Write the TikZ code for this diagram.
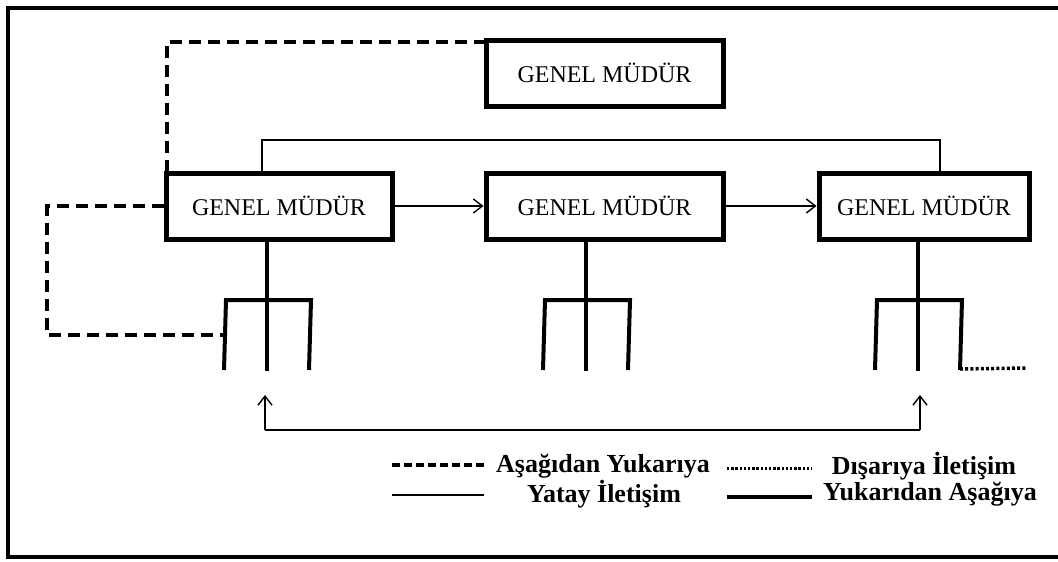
\documentclass[tikz,border=0pt]{standalone}
\usepackage{fontspec}
\setmainfont{Liberation Serif}
\usetikzlibrary{arrows.meta}
\begin{document}
\begin{tikzpicture}[x=1pt,y=-1pt,
  boxnode/.style={draw,line width=5pt,minimum height=66pt,inner sep=0pt,outer sep=0pt,font=\fontsize{24}{28}\selectfont},
  thinline/.style={line width=1.4pt},
  forkline/.style={line width=4pt},
  dashline/.style={line width=4.5pt,dash pattern=on 12pt off 7pt},
  dotline/.style={line width=3.5pt,dash pattern=on 3pt off 2.2pt},
  arr/.style={thinline,-{Straight Barb[length=9pt,width=14pt,line width=1.4pt]}},
  legtext/.style={font=\bfseries\fontsize{26}{30}\selectfont,inner sep=0pt}
]
\useasboundingbox (0,0) rectangle (1058,562);
\fill[white] (0,0) rectangle (1058,562);
% frame
\draw[line width=4pt] (1060,8) -- (8,8) -- (8,557) -- (1060,557);

% boxes
\node[boxnode,minimum width=237pt] (tb) at (604.5,73) {GENEL MÜDÜR};
\node[boxnode,minimum width=226pt] (b1) at (279,206) {GENEL MÜDÜR};
\node[boxnode,minimum width=237pt] (b2) at (604.5,206) {GENEL MÜDÜR};
\node[boxnode,minimum width=210pt] (b3) at (924,206) {GENEL MÜDÜR};

% horizontal arrows
\draw[arr] ([xshift=2.5pt]b1.east) -- ([xshift=-2.5pt]b2.west);
\draw[arr] ([xshift=2.5pt]b2.east) -- ([xshift=-2.5pt]b3.west);

% top connector b1 - b3
\coordinate (c1) at (262,140);
\coordinate (c3) at (940,140);
\draw[thinline] (b1.north -| c1) -- (c1) -- (c3) -- (b3.north -| c3);

% dashed upward from b1 to top box
\coordinate (d1) at (167,42);
\draw[dashline] (d1 -| tb.west) -- (d1) -- (b1.north -| d1);

% forks
\foreach \n/\cx in {1/267,2/586,3/918}{
  \coordinate (s\n) at (\cx,300);
  \coordinate (l\n) at (\cx-41,300);
  \coordinate (r\n) at (\cx+44,300);
  \coordinate (le\n) at (\cx-43,370);
  \coordinate (me\n) at (\cx,371);
  \coordinate (re\n) at (\cx+42,370);
  \draw[forkline] (\cx,242) -- (s\n);
  \draw[forkline] (le\n) -- (l\n) -- (r\n) -- (re\n);
  \draw[forkline] (s\n) -- (me\n);
}

% dashed from b1 left to fork 1
\coordinate (e1) at (47,206);
\coordinate (e2) at (47,335);
\coordinate (e3) at (225,335);
\draw[dashline] ([xshift=-2.5pt]b1.west) -- (e1) -- (e2) -- (e3);

% dotted outward
\coordinate (o1) at (1027,368);
\draw[dotline] (re3) ++(0,-1) -- (o1);

% bottom connector
\coordinate (a1) at (265,430);
\coordinate (a2) at (920,430);
\coordinate (t1) at (265,395);
\coordinate (t2) at (920,395);
\draw[thinline] (a1) -- (a2);
\draw[arr] (a1) -- (t1);
\draw[arr] (a2) -- (t2);

% legend
\coordinate (g1) at (392,465); \coordinate (g2) at (484,465);
\coordinate (g3) at (392,495); \coordinate (g4) at (484,495);
\coordinate (g5) at (727,468); \coordinate (g6) at (812,468);
\coordinate (g7) at (727,497); \coordinate (g8) at (812,497);
\draw[line width=4pt,dash pattern=on 8pt off 4pt] (g1) -- (g2);
\draw[line width=1.6pt] (g3) -- (g4);
\draw[line width=3pt,dash pattern=on 2.4pt off 1.8pt] (g5) -- (g6);
\draw[line width=4pt] (g7) -- (g8);
\node[legtext] (t1l) at (603,466) {Aşağıdan Yukarıya};
\node[legtext] (t2l) at (604,494) {Yatay İletişim};
\node[legtext] (t3l) at (924,466) {Dışarıya İletişim};
\node[legtext] (t4l) at (930,494) {Yukarıdan Aşağıya};
\end{tikzpicture}
\end{document}
